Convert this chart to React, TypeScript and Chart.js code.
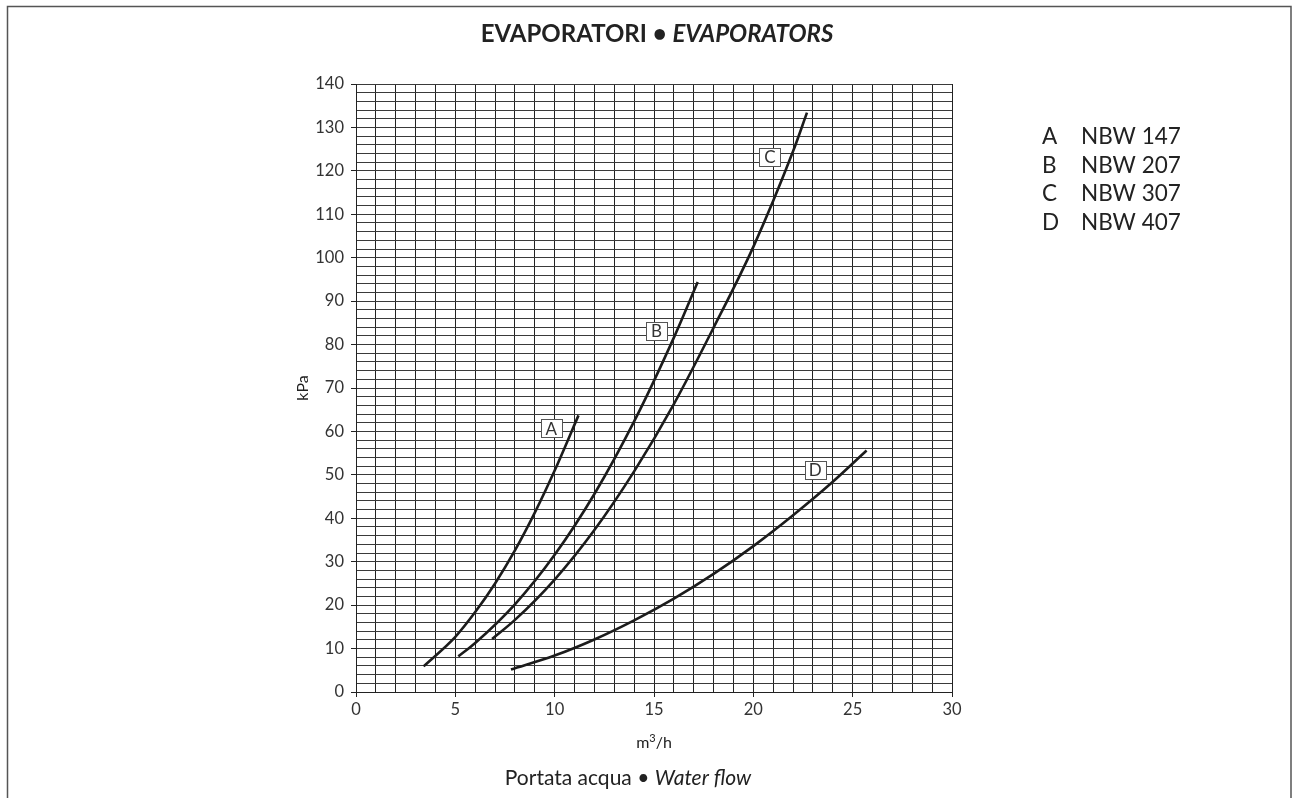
import React, { useEffect, useRef } from "react";
import { Chart, registerables } from "chart.js";

Chart.register(...registerables);

const FONT = "Lato, 'Open Sans', sans-serif";
const INK = "#222";

// Series data: water flow (m³/h) vs pressure drop (kPa)
const flowA = [3.4, 5, 6, 7, 8, 9, 10, 11.2];
const dropA = [5.9, 12.7, 18.4, 25, 32.6, 41.3, 51, 63.7];

const flowB = [5.15, 6, 8, 10, 12, 14, 16, 17.2];
const dropB = [8.2, 11.3, 20.2, 31.6, 45.6, 62.3, 81.6, 94.4];

const flowC = [6.85, 8, 10, 12, 14, 16, 18, 20, 22, 22.7];
const dropC = [12.2, 16.6, 25.9, 37.3, 50.8, 66.3, 83.9, 102.5, 124.5, 133.4];

const flowD = [7.8, 10, 12, 14, 16, 18, 20, 22, 24, 25.7];
const dropD = [5.2, 8.4, 12.1, 16.5, 21.5, 27.2, 33.6, 40.7, 48.4, 55.6];

const seriesLetters = ["A", "B", "C", "D"];
const seriesModels = ["NBW 147", "NBW 207", "NBW 307", "NBW 407"];
const seriesFlows = [flowA, flowB, flowC, flowD];
const seriesDrops = [dropA, dropB, dropC, dropD];

// Curve label box anchors (data coordinates)
const labelFlow = [9.83, 15.12, 20.83, 23.11];
const labelDrop = [60.7, 83.2, 123.2, 51.2];

const xMin = 0;
const xMax = 30;
const xStep = 1;
const xLabelEvery = 5;
const yMin = 0;
const yMax = 140;
const yStep = 2;
const yLabelEvery = 10;

const titleUpright = "EVAPORATORI • ";
const titleItalic = "EVAPORATORS";
const xUnitParts = ["m", "3", "/h"];
const yUnit = "kPa";
const footUpright = "Portata acqua • ";
const footItalic = "Water flow";

function drawMixed(
  ctx: CanvasRenderingContext2D,
  parts: { text: string; font: string; dy?: number }[],
  cx: number,
  cy: number
) {
  let total = 0;
  const widths = parts.map((p) => {
    ctx.font = p.font;
    const w = ctx.measureText(p.text).width;
    total += w;
    return w;
  });
  let x = cx - total / 2;
  ctx.textAlign = "left";
  ctx.textBaseline = "middle";
  parts.forEach((p, i) => {
    ctx.font = p.font;
    ctx.fillText(p.text, x, cy + (p.dy || 0));
    x += widths[i];
  });
}

const decorPlugin = {
  id: "decor",
  afterDatasetsDraw(chart: any) {
    const { ctx, scales } = chart;
    const xs = scales.x;
    const ys = scales.y;
    ctx.save();
    seriesLetters.forEach((l, i) => {
      const cx = xs.getPixelForValue(labelFlow[i]);
      const cy = ys.getPixelForValue(labelDrop[i]);
      const w = 21;
      const h = 18;
      const bx = Math.round(cx - w / 2) + 0.5;
      const by = Math.round(cy - h / 2) + 0.5;
      ctx.fillStyle = "#fff";
      ctx.fillRect(bx, by, w, h);
      ctx.strokeStyle = "#555";
      ctx.lineWidth = 1;
      ctx.strokeRect(bx, by, w, h);
      ctx.fillStyle = "#333";
      ctx.font = `17px ${FONT}`;
      ctx.textAlign = "center";
      ctx.textBaseline = "middle";
      ctx.fillText(l, cx, cy + 1);
    });
    ctx.restore();
  },
  afterDraw(chart: any) {
    const { ctx, chartArea } = chart;
    ctx.save();
    // frame
    ctx.strokeStyle = "#555";
    ctx.lineWidth = 1.5;
    ctx.beginPath();
    ctx.moveTo(7.5, 798);
    ctx.lineTo(7.5, 6.5);
    ctx.lineTo(1291, 6.5);
    ctx.lineTo(1291, 798);
    ctx.stroke();

    ctx.fillStyle = INK;
    const midX = (chartArea.left + chartArea.right) / 2;
    // title
    drawMixed(
      ctx,
      [
        { text: titleUpright, font: `bold 24px ${FONT}` },
        { text: titleItalic, font: `italic bold 24px ${FONT}` },
      ],
      midX + 3,
      34
    );
    // legend
    ctx.font = `22.5px ${FONT}`;
    ctx.textAlign = "left";
    ctx.textBaseline = "middle";
    seriesLetters.forEach((l, i) => {
      const yy = 137 + i * 28.6;
      ctx.fillText(l, 1042, yy);
      ctx.fillText(seriesModels[i], 1081, yy);
    });
    // x unit (m³/h with superscript)
    drawMixed(
      ctx,
      [
        { text: xUnitParts[0], font: `16px ${FONT}` },
        { text: xUnitParts[1], font: `11px ${FONT}`, dy: -5 },
        { text: xUnitParts[2], font: `16px ${FONT}` },
      ],
      midX,
      chartArea.bottom + 51
    );
    // y unit
    ctx.save();
    ctx.translate(303, (chartArea.top + chartArea.bottom) / 2);
    ctx.rotate(-Math.PI / 2);
    ctx.font = `16px ${FONT}`;
    ctx.textAlign = "center";
    ctx.textBaseline = "middle";
    ctx.fillText(yUnit, 0, 0);
    ctx.restore();
    // footer
    drawMixed(
      ctx,
      [
        { text: footUpright, font: `21px ${FONT}` },
        { text: footItalic, font: `italic 21px ${FONT}` },
      ],
      628,
      778
    );
    ctx.restore();
  },
};

export default function App() {
  const ref = useRef<HTMLCanvasElement | null>(null);

  useEffect(() => {
    if (!ref.current) return;
    const datasets = seriesLetters.map((l, i) => ({
      label: l,
      data: seriesFlows[i].map((f, j) => ({ x: f, y: seriesDrops[i][j] })),
      borderColor: "#1c1c1c",
      borderWidth: 2.6,
      pointRadius: 0,
      fill: false,
      cubicInterpolationMode: "monotone" as const,
      borderCapStyle: "butt" as const,
    }));

    const chart = new Chart(ref.current, {
      type: "line",
      data: { datasets },
      options: {
        animation: false,
        responsive: false,
        devicePixelRatio: 1,
        layout: { padding: { left: 296, right: 340, top: 84, bottom: 66 } },
        plugins: {
          legend: { display: false },
          tooltip: { enabled: false },
          title: { display: false },
        },
        scales: {
          x: {
            type: "linear",
            min: xMin,
            max: xMax,
            afterFit: (s: any) => {
              s.height = 40;
            },
            border: { display: true, color: "#222", width: 1 },
            grid: {
              color: "#222",
              lineWidth: 1,
              tickLength: 5,
              tickColor: (c: any) =>
                c.tick && c.tick.value % xLabelEvery === 0 ? "#222" : "rgba(0,0,0,0)",
            },
            ticks: {
              stepSize: xStep,
              autoSkip: false,
              maxRotation: 0,
              padding: 3,
              color: "#333",
              font: { family: FONT, size: 16.5 },
              callback: (v: any) => (Number(v) % xLabelEvery === 0 ? String(v) : ""),
            },
          },
          y: {
            type: "linear",
            min: yMin,
            max: yMax,
            afterFit: (s: any) => {
              s.width = 60;
            },
            border: { display: true, color: "#222", width: 1 },
            grid: {
              color: "#3a3a3a",
              lineWidth: 1,
              tickLength: 5,
              tickColor: (c: any) =>
                c.tick && c.tick.value % yLabelEvery === 0 ? "#222" : "rgba(0,0,0,0)",
            },
            ticks: {
              stepSize: yStep,
              autoSkip: false,
              padding: 7,
              color: "#333",
              font: { family: FONT, size: 16.5 },
              callback: (v: any) => (Number(v) % yLabelEvery === 0 ? String(v) : ""),
            },
          },
        },
      },
      plugins: [decorPlugin],
    });
    return () => chart.destroy();
  }, []);

  return (
    <div style={{ position: "fixed", left: 0, top: 0, width: 1292, height: 798, background: "#fff" }}>
      <canvas ref={ref} width={1292} height={798} style={{ width: 1292, height: 798, display: "block" }} />
    </div>
  );
}
